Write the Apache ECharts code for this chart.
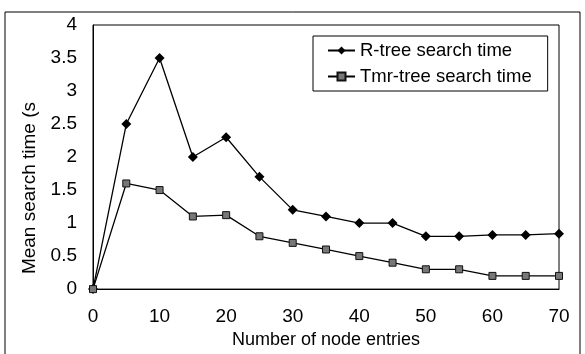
<!DOCTYPE html>
<html><head><meta charset="utf-8">
<script src="https://cdn.jsdelivr.net/npm/echarts@6/dist/echarts.min.js"></script>
<style>html,body{margin:0;padding:0;background:#fff}#c{width:585px;height:354px}</style>
</head><body><div id="c"></div>
<script>
var nodeEntries = [0,5,10,15,20,25,30,35,40,45,50,55,60,65,70];
var rtree = [0,2.5,3.5,2.0,2.3,1.7,1.2,1.1,1.0,1.0,0.8,0.8,0.82,0.82,0.84];
var tmrtree = [0,1.6,1.5,1.1,1.12,0.8,0.7,0.6,0.5,0.4,0.3,0.3,0.2,0.2,0.2];
var seriesNames = ['R-tree search time','Tmr-tree search time'];

function pairs(v){return nodeEntries.map(function(x,i){return [x,v[i]];});}
var font = 'Liberation Sans, Arial, sans-serif';
var chart = echarts.init(document.getElementById('c'));
chart.setOption({
  animation:false,
  textStyle:{fontFamily:font,color:'#000'},
  graphic:[{type:'rect',shape:{x:5,y:12,width:575,height:360},style:{fill:'none',stroke:'#000',lineWidth:1},silent:true,z:-1}],
  grid:{left:93,right:26,top:25,bottom:61,show:true,borderColor:'#000',borderWidth:1,backgroundColor:'transparent'},
  legend:{
    orient:'vertical',left:313,top:36,padding:[5,16,5,14],itemGap:7,
    itemWidth:27,itemHeight:10,
    borderColor:'#000',borderWidth:1,borderRadius:0,
    textStyle:{fontFamily:font,fontSize:18.5,color:'#000'},
    data:seriesNames
  },
  xAxis:{type:'value',min:0,max:70,interval:10,
    axisLine:{lineStyle:{color:'#000'}},axisTick:{show:false},splitLine:{show:false},
    axisLabel:{fontSize:19,color:'#000',margin:18,fontFamily:font},
    name:'Number of node entries',nameLocation:'middle',nameGap:36,
    nameTextStyle:{fontSize:18,color:'#000',fontFamily:font}
  },
  yAxis:{type:'value',min:0,max:4,interval:0.5,
    axisLine:{show:true,lineStyle:{color:'#000'}},axisTick:{show:false},splitLine:{show:false},
    axisLabel:{fontSize:19,color:'#000',margin:16,fontFamily:font},
    name:'Mean search time (s',nameLocation:'middle',nameGap:47,
    nameTextStyle:{fontSize:19,color:'#000',fontFamily:font,padding:[0,62,0,0]}
  },
  series:[
    {name:seriesNames[0],type:'line',data:pairs(rtree),symbol:'diamond',symbolSize:10,
     lineStyle:{color:'#000',width:1.3},itemStyle:{color:'#000'}},
    {name:seriesNames[1],type:'line',data:pairs(tmrtree),symbol:'rect',symbolSize:7,
     lineStyle:{color:'#000',width:1.3},itemStyle:{color:'#777',borderColor:'#111',borderWidth:1}}
  ]
});
</script></body></html>
